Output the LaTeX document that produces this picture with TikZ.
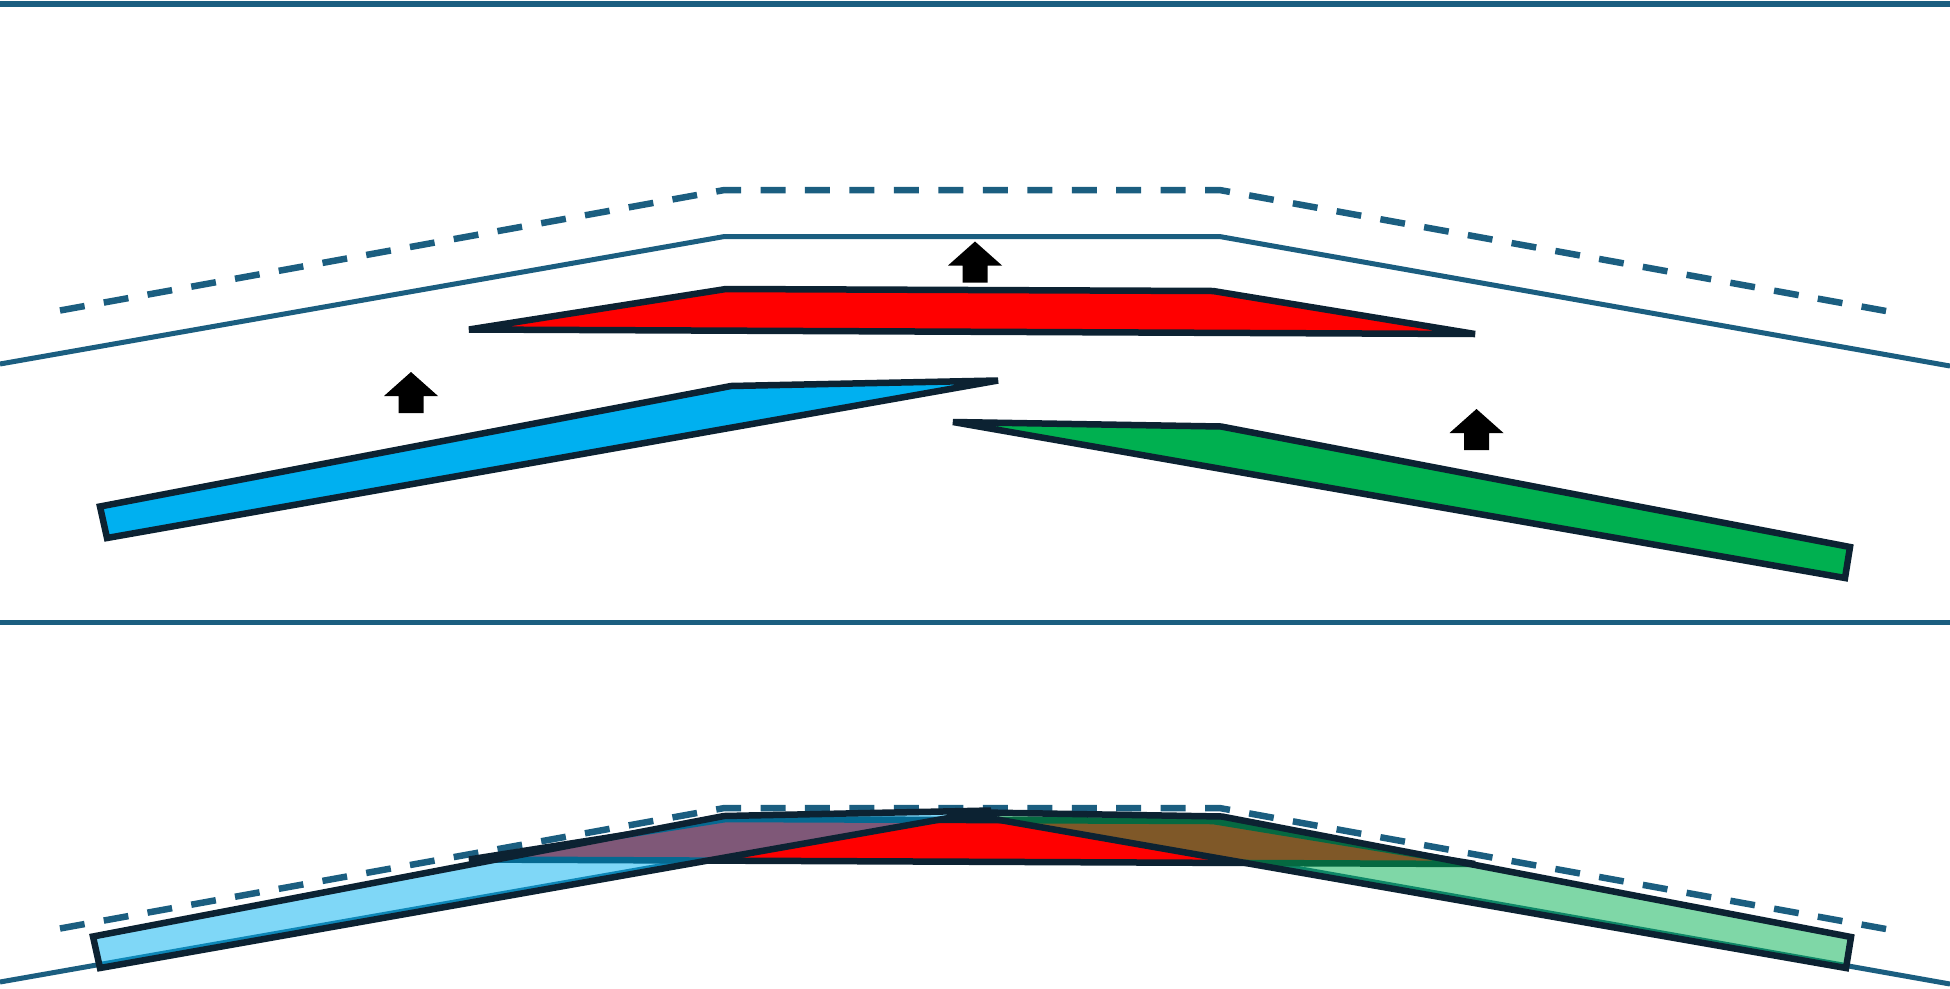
\documentclass[tikz,border=0pt]{standalone}
\definecolor{guideTeal}{RGB}{27,94,128}
\definecolor{pieceStroke}{RGB}{12,34,50}
\definecolor{pieceBlue}{RGB}{0,176,240}
\definecolor{pieceRed}{RGB}{255,0,0}
\definecolor{pieceGreen}{RGB}{0,176,80}
\tikzset{
  guide/.style={guideTeal,line width=5pt},
  guidedash/.style={guideTeal,line width=6.5pt,dash pattern=on 25pt off 19.46pt},
  piece/.style={draw=pieceStroke,line width=6.5pt},
}
\newcommand{\bendguides}{%
  \draw[guidedash] (60,310.5) -- (724.5,190) -- (1219.5,190) -- (1886,311);
  \draw[guide] (0,364) -- (724.5,236.5) -- (1219.5,236.5) -- (1950,366);
}
\newcommand{\redpiece}[1]{%
  \filldraw[piece,fill=pieceRed,fill opacity=#1]
    (469,329.5) -- (726,289) -- (1213,291) -- (1475,334) -- cycle;
}
\newcommand{\bluepiece}[1]{%
  \filldraw[piece,fill=pieceBlue,fill opacity=#1]
    (100,506.5) -- (731,386) -- (998,380.5) -- (107,538) -- cycle;
}
\newcommand{\greenpiece}[1]{%
  \filldraw[piece,fill=pieceGreen,fill opacity=#1]
    (953,422) -- (1221,426.5) -- (1850,547) -- (1845,578) -- cycle;
}
\newcommand{\liftarrow}[2]{%
  \fill[black] (#1,#2) -- ++(27,24) -- ++(-14.5,0) -- ++(0,17)
    -- ++(-25,0) -- ++(0,-17) -- ++(-14.5,0) -- cycle;
}

\begin{document}
\begin{tikzpicture}[x=1pt,y=-1pt]
  \useasboundingbox (0,0) rectangle (1950,988);
  \draw[guide,line width=6pt] (0,3.5) -- (1950,3.5);
  \draw[guide] (0,622) -- (1950,622);
  \bendguides
  \redpiece{1}
  \bluepiece{1}
  \greenpiece{1}
  \liftarrow{411}{372}
  \liftarrow{975}{241.5}
  \liftarrow{1476.5}{409}
  \begin{scope}[shift={(0,618)}]
    \bendguides
  \end{scope}
  \begin{scope}[shift={(0,530)}]
    \redpiece{1}
  \end{scope}
  \begin{scope}[shift={(-7,430)}]
    \bluepiece{0.5}
  \end{scope}
  \begin{scope}[shift={(1,390)}]
    \greenpiece{0.5}
  \end{scope}
\end{tikzpicture}
\end{document}
